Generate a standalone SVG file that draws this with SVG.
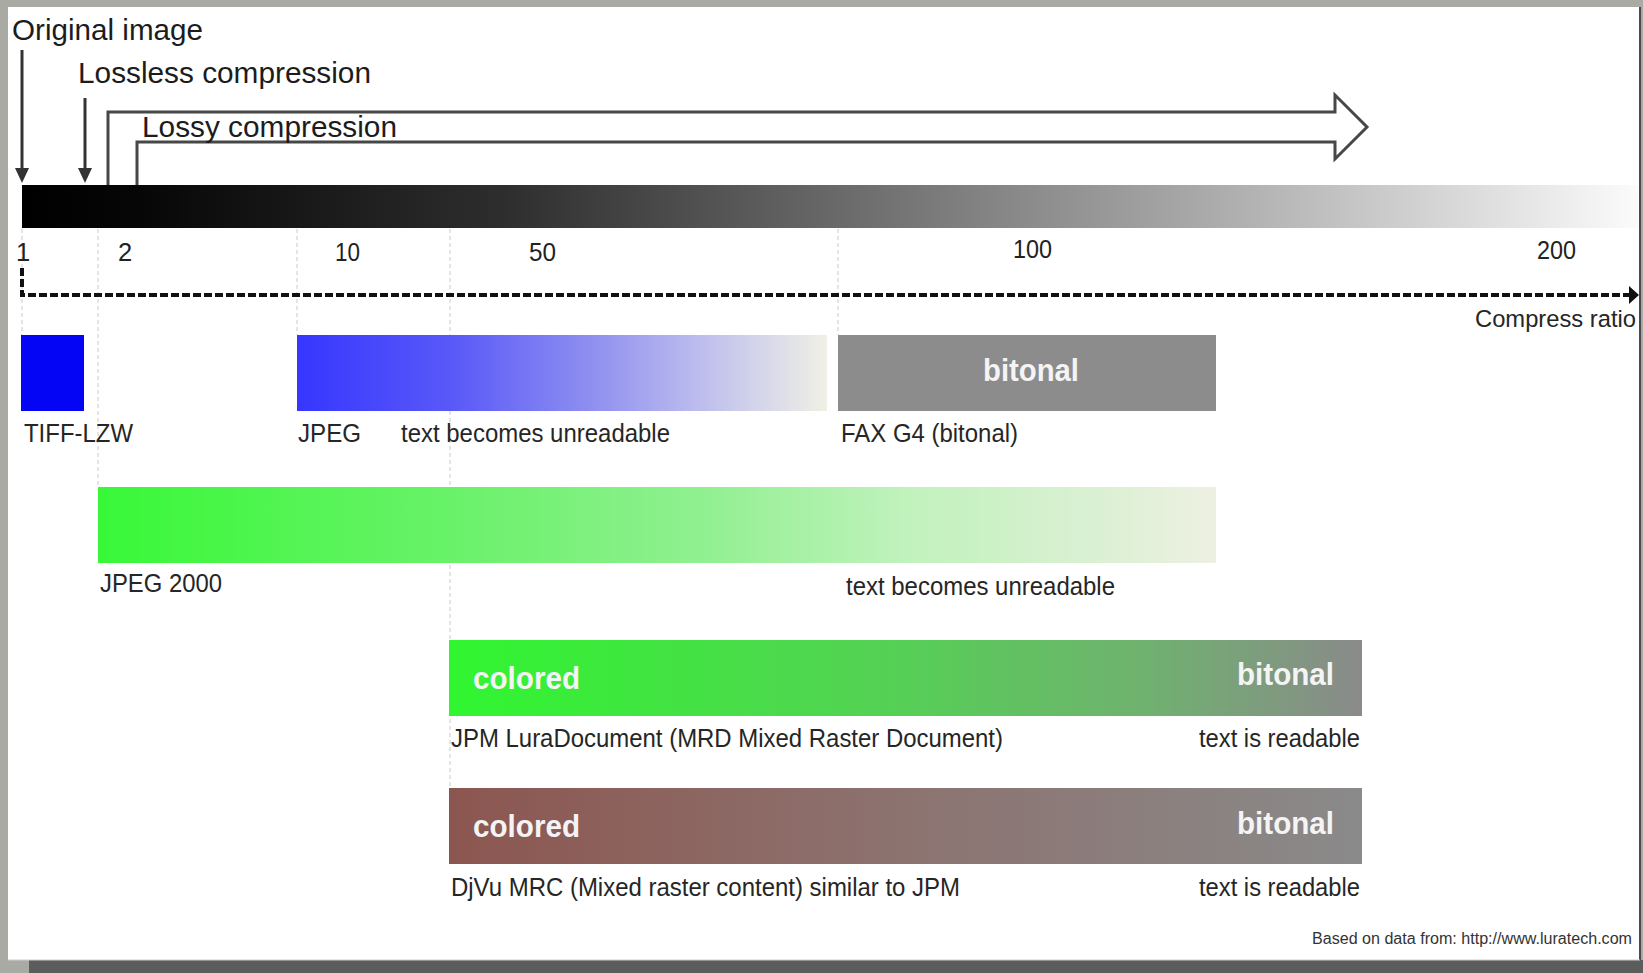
<svg xmlns="http://www.w3.org/2000/svg" width="1643" height="973" viewBox="0 0 1643 973">
  <style>
    text { font-family: "Liberation Sans", Arial, sans-serif; }
    .top { font-size: 29.5px; fill: #1c1c1c; }
    .tick { font-size: 25.5px; fill: #222; }
    .lbl { font-size: 26px; fill: #262626; }
    .bar { font-size: 32px; font-weight: bold; fill: #f4f4f4; }
    .grid { stroke: #cacaca; stroke-width: 1; stroke-dasharray: 4 3; fill: none; }
    .downarrow { stroke: #333; stroke-width: 3; fill: none; }
  </style>
  <defs>
    <linearGradient id="gScale" x1="0" y1="0" x2="1" y2="0">
      <stop offset="0" stop-color="#000"/>
      <stop offset="0.07" stop-color="#060606"/>
      <stop offset="0.3" stop-color="#2e2e2e"/>
      <stop offset="0.5" stop-color="#686868"/>
      <stop offset="0.75" stop-color="#afafaf"/>
      <stop offset="0.9" stop-color="#dcdcdc"/>
      <stop offset="1" stop-color="#fbfbfb"/>
    </linearGradient>
    <linearGradient id="gBlue" x1="0" y1="0" x2="1" y2="0">
      <stop offset="0" stop-color="#3636ff"/>
      <stop offset="0.3" stop-color="#5a5af8"/>
      <stop offset="0.57" stop-color="#9292f0"/>
      <stop offset="0.76" stop-color="#bdbdee"/>
      <stop offset="1" stop-color="#f0f0e6"/>
    </linearGradient>
    <linearGradient id="gGreen" x1="0" y1="0" x2="1" y2="0">
      <stop offset="0" stop-color="#38f838"/>
      <stop offset="0.31" stop-color="#68f268"/>
      <stop offset="0.54" stop-color="#90f090"/>
      <stop offset="0.72" stop-color="#c0f2bc"/>
      <stop offset="0.9" stop-color="#dcf0d4"/>
      <stop offset="1" stop-color="#eef0e2"/>
    </linearGradient>
    <linearGradient id="gJpm" x1="0" y1="0" x2="1" y2="0">
      <stop offset="0" stop-color="#30f630"/>
      <stop offset="0.49" stop-color="#55d055"/>
      <stop offset="0.77" stop-color="#70b070"/>
      <stop offset="1" stop-color="#8a8a8a"/>
    </linearGradient>
    <linearGradient id="gDjvu" x1="0" y1="0" x2="1" y2="0">
      <stop offset="0" stop-color="#8c5650"/>
      <stop offset="0.5" stop-color="#8c7370"/>
      <stop offset="1" stop-color="#8a8a8a"/>
    </linearGradient>
  </defs>

  <!-- frame -->
  <rect x="0" y="0" width="1643" height="973" fill="#aaaaa5"/>
  <rect x="29" y="960" width="1614" height="13" fill="#5c5c5c"/>
  <rect x="8" y="7" width="1632" height="953" fill="#ffffff"/>
  <line x1="1640" y1="7" x2="1640" y2="960" stroke="#4a4a4a" stroke-width="2"/>
  <line x1="8" y1="960" x2="1640" y2="960" stroke="#cfcfcf" stroke-width="1"/>

  <!-- grid lines -->
  <g id="grid">
    <line class="grid" x1="22" y1="229" x2="22" y2="335"/>
    <line class="grid" x1="98" y1="229" x2="98" y2="487"/>
    <line class="grid" x1="297" y1="229" x2="297" y2="335"/>
    <line class="grid" x1="450" y1="229" x2="450" y2="788"/>
    <line class="grid" x1="838" y1="229" x2="838" y2="335"/>
  </g>

  <!-- scale bar -->
  <g id="scale">
    <rect x="22" y="185" width="1616" height="43" fill="url(#gScale)"/>
    <text class="tick" x="16" y="261">1</text>
    <text class="tick" x="118" y="261">2</text>
    <text class="tick" x="335" y="261" textLength="25" lengthAdjust="spacingAndGlyphs">10</text>
    <text class="tick" x="529" y="261" textLength="27" lengthAdjust="spacingAndGlyphs">50</text>
    <text class="tick" x="1013" y="258" textLength="39" lengthAdjust="spacingAndGlyphs">100</text>
    <text class="tick" x="1537" y="259" textLength="39" lengthAdjust="spacingAndGlyphs">200</text>
  </g>

  <!-- connectors -->
  <g id="connectors">
    <line class="downarrow" x1="22" y1="50" x2="22" y2="170"/>
    <polygon points="15,168 29,168 22,183" fill="#333"/>
    <line class="downarrow" x1="85" y1="98" x2="85" y2="170"/>
    <polygon points="78,168 92,168 85,183" fill="#333"/>
    <path d="M108,185 V112 H1335 V95 L1367,127 L1335,159 V142 H137 V185" fill="none" stroke="#474747" stroke-width="3" stroke-linejoin="miter"/>
    <path d="M22,268 V295 H1630" fill="none" stroke="#111" stroke-width="4" stroke-dasharray="8 3"/>
    <polygon points="1629,286 1639,295 1629,304" fill="#111"/>
  </g>

  <!-- headings -->
  <g id="headings">
    <text class="top" x="12" y="40" textLength="191" lengthAdjust="spacingAndGlyphs">Original image</text>
    <text class="top" x="78" y="83" textLength="293" lengthAdjust="spacingAndGlyphs">Lossless compression</text>
    <text class="top" x="142" y="137" textLength="255" lengthAdjust="spacingAndGlyphs">Lossy compression</text>
    <text class="lbl" x="1475" y="327" textLength="161" lengthAdjust="spacingAndGlyphs" style="font-size:24.5px">Compress ratio</text>
  </g>

  <g id="tiff">
    <rect x="21" y="335" width="63" height="76" fill="#0505f5"/>
    <text class="lbl" x="24" y="442" textLength="109" lengthAdjust="spacingAndGlyphs">TIFF-LZW</text>
  </g>

  <g id="jpeg">
    <rect x="297" y="335" width="530" height="76" fill="url(#gBlue)"/>
    <text class="lbl" x="298" y="442" textLength="63" lengthAdjust="spacingAndGlyphs">JPEG</text>
    <text class="lbl" x="401" y="442" textLength="269" lengthAdjust="spacingAndGlyphs">text becomes unreadable</text>
  </g>

  <g id="fax">
    <rect x="838" y="335" width="378" height="76" fill="#8c8c8c"/>
    <text class="bar" x="983" y="381" textLength="96" lengthAdjust="spacingAndGlyphs">bitonal</text>
    <text class="lbl" x="841" y="442" textLength="177" lengthAdjust="spacingAndGlyphs">FAX G4 (bitonal)</text>
  </g>

  <g id="jpeg2000">
    <rect x="98" y="487" width="1118" height="76" fill="url(#gGreen)"/>
    <text class="lbl" x="100" y="592" textLength="122" lengthAdjust="spacingAndGlyphs">JPEG 2000</text>
    <text class="lbl" x="846" y="595" textLength="269" lengthAdjust="spacingAndGlyphs">text becomes unreadable</text>
  </g>

  <g id="jpm">
    <rect x="449" y="640" width="913" height="76" fill="url(#gJpm)"/>
    <text class="bar" x="473" y="689" textLength="107" lengthAdjust="spacingAndGlyphs">colored</text>
    <text class="bar" x="1237" y="685" textLength="97" lengthAdjust="spacingAndGlyphs">bitonal</text>
    <text class="lbl" x="451" y="747" textLength="552" lengthAdjust="spacingAndGlyphs">JPM LuraDocument (MRD Mixed Raster Document)</text>
    <text class="lbl" x="1199" y="747" textLength="161" lengthAdjust="spacingAndGlyphs">text is readable</text>
  </g>

  <g id="djvu">
    <rect x="449" y="788" width="913" height="76" fill="url(#gDjvu)"/>
    <text class="bar" x="473" y="837" textLength="107" lengthAdjust="spacingAndGlyphs">colored</text>
    <text class="bar" x="1237" y="834" textLength="97" lengthAdjust="spacingAndGlyphs">bitonal</text>
    <text class="lbl" x="451" y="896" textLength="509" lengthAdjust="spacingAndGlyphs">DjVu MRC (Mixed raster content) similar to JPM</text>
    <text class="lbl" x="1199" y="896" textLength="161" lengthAdjust="spacingAndGlyphs">text is readable</text>
  </g>

  <g id="source">
    <text x="1312" y="944" style="font-size:16px; fill:#333" textLength="320" lengthAdjust="spacingAndGlyphs">Based on data from: http://www.luratech.com</text>
  </g>
</svg>
